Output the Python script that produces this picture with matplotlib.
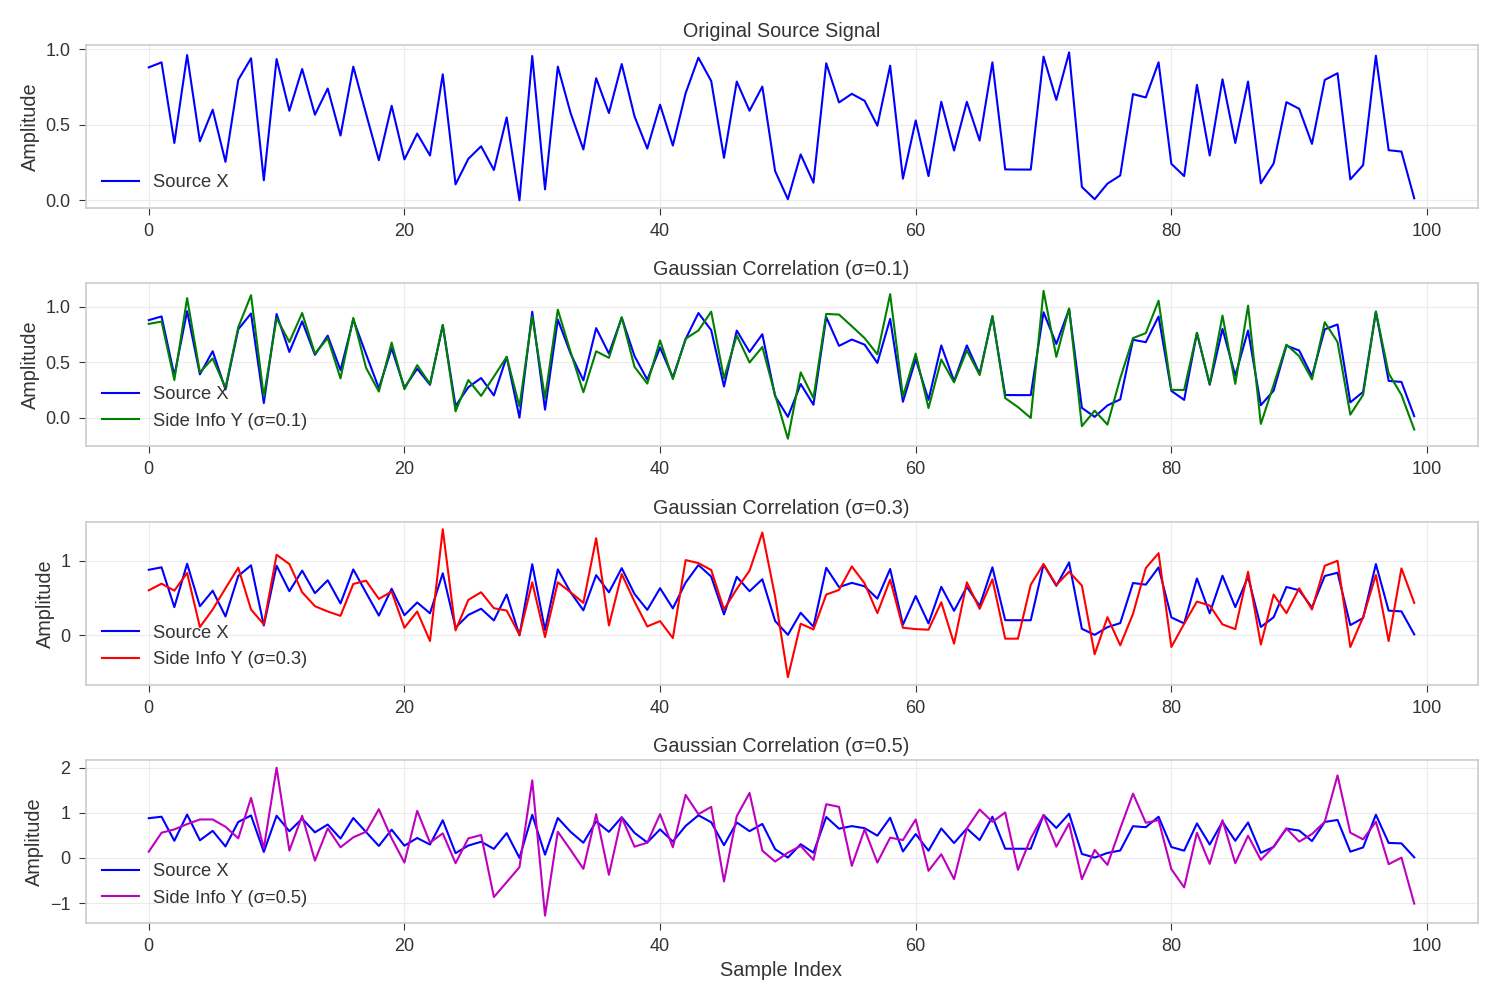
import matplotlib
matplotlib.use("Agg")
import matplotlib.pyplot as plt
from matplotlib.ticker import MultipleLocator

plt.rcParams["font.family"] = ["Liberation Sans", "DejaVu Sans"]

sample_index = list(range(100))

source_x = [
    0.879, 0.912, 0.379, 0.960, 0.390, 0.599, 0.254, 0.796, 0.939, 0.132,
    0.934, 0.592, 0.868, 0.566, 0.739, 0.428, 0.884, 0.572, 0.265, 0.625,
    0.270, 0.441, 0.296, 0.833, 0.105, 0.274, 0.357, 0.200, 0.548, 0.000,
    0.954, 0.072, 0.884, 0.577, 0.336, 0.807, 0.577, 0.901, 0.555, 0.342,
    0.632, 0.362, 0.708, 0.943, 0.789, 0.281, 0.785, 0.592, 0.752, 0.193,
    0.007, 0.303, 0.116, 0.906, 0.647, 0.704, 0.658, 0.493, 0.890, 0.143,
    0.528, 0.160, 0.651, 0.329, 0.651, 0.395, 0.912, 0.204, 0.203, 0.203,
    0.950, 0.664, 0.978, 0.088, 0.007, 0.110, 0.164, 0.702, 0.680, 0.912,
    0.241, 0.160, 0.763, 0.296, 0.800, 0.379, 0.785, 0.112, 0.243, 0.649,
    0.605, 0.373, 0.796, 0.840, 0.138, 0.232, 0.956, 0.331, 0.322, 0.013,
]

side_y_01 = [
    0.845, 0.866, 0.339, 1.077, 0.408, 0.533, 0.270, 0.815, 1.104, 0.190,
    0.896, 0.682, 0.943, 0.577, 0.717, 0.354, 0.899, 0.449, 0.235, 0.676,
    0.256, 0.473, 0.304, 0.836, 0.057, 0.339, 0.196, 0.370, 0.548, 0.101,
    0.914, 0.176, 0.973, 0.592, 0.229, 0.598, 0.539, 0.905, 0.458, 0.307,
    0.696, 0.348, 0.711, 0.786, 0.955, 0.354, 0.741, 0.497, 0.637, 0.205,
    -0.190, 0.408, 0.176, 0.935, 0.929, 0.824, 0.717, 0.571, 1.113, 0.190,
    0.577, 0.086, 0.524, 0.318, 0.607, 0.384, 0.917, 0.176, 0.095, -0.003,
    1.143, 0.548, 0.985, -0.077, 0.063, -0.063, 0.354, 0.717, 0.762, 1.054,
    0.250, 0.250, 0.765, 0.304, 0.920, 0.304, 1.009, -0.057, 0.295, 0.658,
    0.554, 0.345, 0.860, 0.682, 0.027, 0.205, 0.955, 0.399, 0.205, -0.107,
]

side_y_03 = [
    0.604, 0.693, 0.600, 0.836, 0.111, 0.347, 0.631, 0.907, 0.347, 0.147,
    1.080, 0.956, 0.578, 0.391, 0.320, 0.262, 0.689, 0.733, 0.489, 0.587,
    0.102, 0.320, -0.076, 1.422, 0.067, 0.476, 0.578, 0.364, 0.333, 0.009,
    0.711, -0.022, 0.711, 0.578, 0.436, 1.302, 0.133, 0.822, 0.453, 0.120,
    0.191, -0.036, 1.009, 0.969, 0.876, 0.347, 0.622, 0.867, 1.378, 0.520,
    -0.560, 0.156, 0.080, 0.547, 0.609, 0.924, 0.698, 0.298, 0.747, 0.102,
    0.084, 0.076, 0.444, -0.111, 0.711, 0.356, 0.752, -0.044, -0.044, 0.680,
    0.956, 0.676, 0.853, 0.667, -0.253, 0.244, -0.133, 0.289, 0.902, 1.102,
    -0.156, 0.156, 0.453, 0.400, 0.147, 0.084, 0.853, -0.124, 0.547, 0.298,
    0.631, 0.347, 0.933, 1.000, -0.156, 0.244, 0.809, -0.076, 0.898, 0.436,
]

side_y_05 = [
    0.139, 0.558, 0.631, 0.748, 0.851, 0.851, 0.690, 0.433, 1.328, 0.213,
    1.996, 0.161, 0.932, -0.059, 0.653, 0.235, 0.455, 0.580, 1.078, 0.433,
    -0.103, 1.042, 0.337, 0.543, -0.117, 0.433, 0.506, -0.866, -0.536, -0.205,
    1.717, -1.277, 0.580, 0.176, -0.242, 0.968, -0.374, 0.895, 0.249, 0.337,
    0.968, 0.235, 1.394, 0.968, 1.130, -0.521, 0.924, 1.438, 0.161, -0.081,
    0.117, 0.264, -0.044, 1.189, 1.130, -0.176, 0.631, -0.103, 0.448, 0.396,
    0.851, -0.286, 0.081, -0.470, 0.653, 1.071, 0.800, 1.005, -0.264, 0.433,
    0.946, 0.249, 0.763, -0.470, 0.176, -0.154, 0.653, 1.423, 0.778, 0.836,
    -0.249, -0.653, 0.558, -0.132, 0.836, -0.117, 0.492, -0.044, 0.249, 0.653,
    0.360, 0.528, 0.800, 1.827, 0.558, 0.411, 0.800, -0.139, 0.007, -1.012,
]

sigmas = ["0.1", "0.3", "0.5"]
side_series = [side_y_01, side_y_03, side_y_05]
side_colors = ["green", "red", "m"]
y_steps = [0.5, 0.5, 1.0, 1.0]


def style_axis(ax, step):
    ax.yaxis.set_major_locator(MultipleLocator(step))
    ax.grid(True, color="#ebebeb", linewidth=0.8)
    ax.set_axisbelow(True)
    for spine in ax.spines.values():
        spine.set_color("#cccccc")
        spine.set_linewidth(1.2)
    ax.tick_params(labelsize=13, colors="#333333", length=5, pad=6)
    ax.set_ylabel("Amplitude", fontsize=14.3, color="#333333")
    ax.legend(loc="lower left", frameon=False, fontsize=13.2, labelcolor="#333333")


def main():
    fig, axs = plt.subplots(4, 1, figsize=(15, 10), dpi=100)

    ax = axs[0]
    ax.plot(sample_index, source_x, color="blue", linewidth=1.5, label="Source X")
    ax.set_title("Original Source Signal", fontsize=14.2, color="#333333")
    style_axis(ax, y_steps[0])

    for ax, sigma, side, color, step in zip(axs[1:], sigmas, side_series,
                                            side_colors, y_steps[1:]):
        ax.plot(sample_index, source_x, color="blue", linewidth=1.5, label="Source X")
        ax.plot(sample_index, side, color=color, linewidth=1.5,
                label=f"Side Info Y (σ={sigma})")
        ax.set_title(f"Gaussian Correlation (σ={sigma})", fontsize=14.2,
                     color="#333333")
        style_axis(ax, step)

    axs[-1].set_xlabel("Sample Index", fontsize=14.3, color="#333333")

    fig.subplots_adjust(left=0.057, right=0.985, top=0.955, bottom=0.077,
                        hspace=0.466)
    fig.savefig("out.png")


if __name__ == "__main__":
    main()
